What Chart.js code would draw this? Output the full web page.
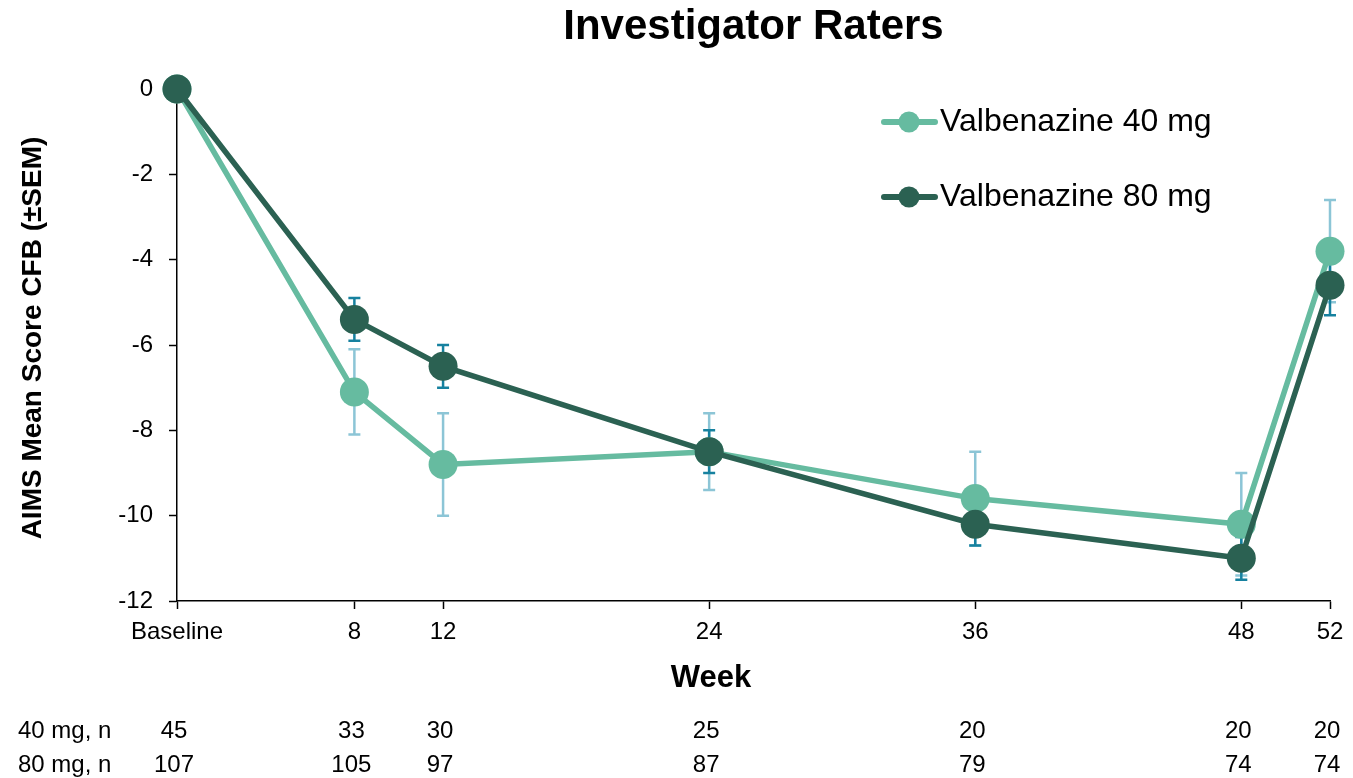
<!DOCTYPE html>
<html>
<head>
<meta charset="utf-8">
<script src="https://cdn.jsdelivr.net/npm/chart.js@4/dist/chart.umd.min.js"></script>
<style>
  html, body { margin: 0; padding: 0; background: #fff; }
  #wrap { width: 1353px; height: 778px; position: relative; }
</style>
</head>
<body>
<div id="wrap"><canvas id="c" width="1353" height="778"></canvas></div>
<script>
// Study weeks and their axis labels
const weeks = [0, 8, 12, 24, 36, 48, 52];
const tickLabels = ['Baseline', '8', '12', '24', '36', '48', '52'];

// Mean change from baseline and SEM, per dose
const mean40 = [0, -7.1, -8.8, -8.5, -9.6, -10.2, -3.8];
const sem40  = [0, 1.0, 1.2, 0.9, 1.1, 1.2, 1.2];
const mean80 = [0, -5.4, -6.5, -8.5, -10.2, -11.0, -4.6];
const sem80  = [0, 0.5, 0.5, 0.5, 0.5, 0.5, 0.7];

// Patients remaining at each visit
const n40 = [45, 33, 30, 25, 20, 20, 20];
const n80 = [107, 105, 97, 87, 79, 74, 74];

const FONT = "'Liberation Sans', Arial, Helvetica, sans-serif";
const C40 = '#66bba0', C80 = '#2b6152';
const ERR40 = '#8cc5d6', ERR80 = '#16819f';

const toPoints = (arr) => weeks.map((w, i) => ({ x: w, y: arr[i] }));

// Vertical SEM whiskers, drawn underneath the lines and markers
const errorBars = {
  id: 'errorBars',
  beforeDatasetsDraw(chart) {
    const { ctx, scales: { x, y } } = chart;
    const sets = [[mean40, sem40, ERR40], [mean80, sem80, ERR80]];
    ctx.save();
    ctx.lineWidth = 2.5;
    sets.forEach(([m, s, col]) => {
      ctx.strokeStyle = col;
      weeks.forEach((w, i) => {
        if (!s[i]) return;
        const px = x.getPixelForValue(w);
        const top = y.getPixelForValue(m[i] + s[i]);
        const bot = y.getPixelForValue(m[i] - s[i]);
        ctx.beginPath();
        ctx.moveTo(px, top); ctx.lineTo(px, bot);
        ctx.moveTo(px - 6, top); ctx.lineTo(px + 6, top);
        ctx.moveTo(px - 6, bot); ctx.lineTo(px + 6, bot);
        ctx.stroke();
      });
    });
    ctx.restore();
  }
};

// Title, axis titles, legend and the n-at-risk table
const decorations = {
  id: 'decorations',
  afterDraw(chart) {
    const { ctx, chartArea, scales: { x } } = chart;
    ctx.save();
    ctx.fillStyle = '#000';

    // title
    ctx.font = `bold 42px ${FONT}`;
    ctx.textAlign = 'center';
    ctx.textBaseline = 'middle';
    ctx.fillText('Investigator Raters', (chartArea.left + chartArea.right) / 2, 27);

    // y axis title
    ctx.save();
    ctx.translate(33, 338);
    ctx.rotate(-Math.PI / 2);
    ctx.font = `bold 28px ${FONT}`;
    ctx.fillText('AIMS Mean Score CFB (\u00B1SEM)', 0, 0);
    ctx.restore();

    // x axis title
    ctx.font = `bold 31px ${FONT}`;
    ctx.fillText('Week', 711, 678);

    // legend
    const items = [['Valbenazine 40 mg', C40, 122], ['Valbenazine 80 mg', C80, 197]];
    items.forEach(([label, col, yy]) => {
      ctx.strokeStyle = col;
      ctx.fillStyle = col;
      ctx.lineWidth = 6;
      ctx.lineCap = 'round';
      ctx.beginPath(); ctx.moveTo(884, yy); ctx.lineTo(935, yy); ctx.stroke();
      ctx.beginPath(); ctx.arc(909, yy, 10.5, 0, Math.PI * 2); ctx.fill();
      ctx.fillStyle = '#000';
      ctx.font = `32px ${FONT}`;
      ctx.textAlign = 'left';
      ctx.fillText(label, 940, yy);
    });

    // n table
    ctx.font = `24px ${FONT}`;
    ctx.textAlign = 'left';
    ctx.fillText('40 mg, n', 18, 731);
    ctx.fillText('80 mg, n', 18, 765);
    ctx.textAlign = 'center';
    weeks.forEach((w, i) => {
      const px = x.getPixelForValue(w);
      ctx.fillText(String(n40[i]), px - 3, 731);
      ctx.fillText(String(n80[i]), px - 3, 765);
    });
    ctx.restore();
  }
};

new Chart(document.getElementById('c'), {
  type: 'line',
  data: {
    datasets: [
      {
        label: 'Valbenazine 40 mg',
        data: toPoints(mean40),
        borderColor: C40, backgroundColor: C40,
        pointBackgroundColor: C40, pointBorderWidth: 0,
        borderWidth: 5.5, pointRadius: 14.5, tension: 0,
        order: 1, clip: false
      },
      {
        label: 'Valbenazine 80 mg',
        data: toPoints(mean80),
        borderColor: C80, backgroundColor: C80,
        pointBackgroundColor: C80, pointBorderWidth: 0,
        borderWidth: 5.5, pointRadius: 14.5, tension: 0,
        order: 0, clip: false
      }
    ]
  },
  options: {
    responsive: false,
    animation: false,
    devicePixelRatio: 1,
    layout: { padding: { left: 0, top: 89, right: 23, bottom: 0 } },
    plugins: { legend: { display: false }, title: { display: false }, tooltip: { enabled: false } },
    scales: {
      x: {
        type: 'linear', min: 0, max: 52,
        afterBuildTicks: (s) => { s.ticks = weeks.map(v => ({ value: v })); },
        afterFit: (s) => { s.height = 177; },
        grid: { drawOnChartArea: false, drawTicks: true, tickLength: 8, tickColor: '#000', tickWidth: 1.5 },
        border: { display: true, color: '#000', width: 1.5 },
        ticks: {
          autoSkip: false, maxRotation: 0, padding: 9, color: '#000',
          font: { family: FONT, size: 24 },
          callback: (v) => tickLabels[weeks.indexOf(v)]
        }
      },
      y: {
        min: -12, max: 0,
        afterFit: (s) => { s.width = 177; },
        grid: { drawOnChartArea: false, drawTicks: true, tickLength: 8, tickColor: '#000', tickWidth: 1.5 },
        border: { display: true, color: '#000', width: 1.5 },
        ticks: { stepSize: 2, padding: 16, color: '#000', font: { family: FONT, size: 24 } }
      }
    }
  },
  plugins: [errorBars, decorations]
});
</script>
</body>
</html>
